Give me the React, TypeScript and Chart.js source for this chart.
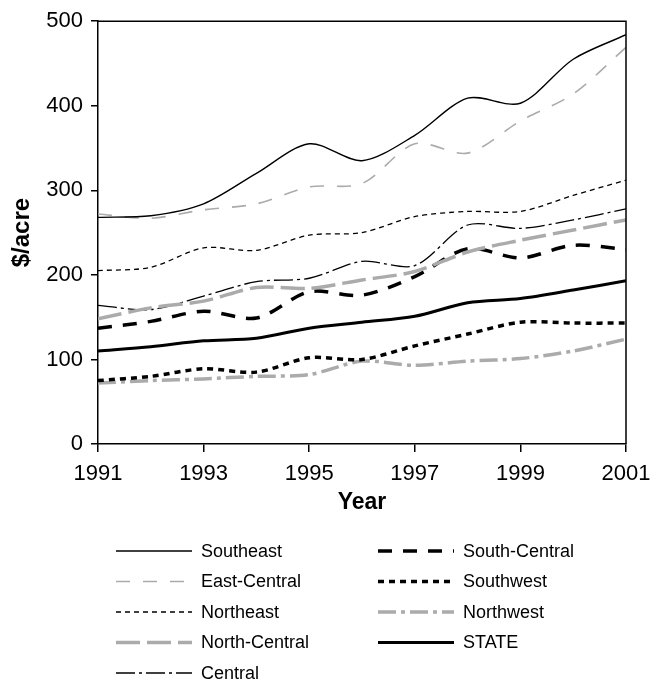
import React, { useEffect, useRef } from "react";
import { Chart, registerables } from "chart.js";

Chart.register(...registerables);

const years = [1991, 1992, 1993, 1994, 1995, 1996, 1997, 1998, 1999, 2000, 2001];
const xTickYears = [1991, 1993, 1995, 1997, 1999, 2001];
const yTicks = [0, 100, 200, 300, 400, 500];

const southeast = [268, 270, 284, 320, 355, 335, 365, 409, 403, 455, 484];
const eastCentral = [272, 267, 277, 284, 304, 308, 355, 344, 382, 414, 469];
const northeast = [205, 209, 232, 229, 247, 250, 269, 275, 275, 294, 312];
const northCentral = [148, 161, 169, 185, 184, 194, 204, 227, 241, 253, 265];
const central = [164, 159, 175, 192, 196, 216, 211, 259, 255, 265, 278];
const southCentral = [137, 145, 157, 149, 180, 176, 198, 231, 220, 235, 230];
const southwest = [75, 80, 89, 85, 102, 100, 116, 130, 144, 143, 143];
const northwest = [72, 75, 77, 80, 82, 98, 93, 98, 101, 110, 124];
const stateAvg = [110, 115, 122, 125, 137, 144, 151, 167, 172, 182, 193];

const FONT = "'Liberation Sans', Arial, Helvetica, sans-serif";
const GRAY = "#ababab";

const seriesDefs = [
  { label: "Southeast", data: southeast, color: "#000", width: 1.4, dash: [] as number[] },
  { label: "East-Central", data: eastCentral, color: GRAY, width: 1.6, dash: [14, 13] },
  { label: "Northeast", data: northeast, color: "#000", width: 1.3, dash: [5, 4] },
  { label: "North-Central", data: northCentral, color: GRAY, width: 3.5, dash: [24, 7] },
  { label: "Central", data: central, color: "#000", width: 1.3, dash: [19, 4, 3, 4] },
  { label: "South-Central", data: southCentral, color: "#000", width: 3.5, dash: [14, 11] },
  { label: "Southwest", data: southwest, color: "#000", width: 3.5, dash: [6, 5] },
  { label: "Northwest", data: northwest, color: GRAY, width: 3.5, dash: [18, 5, 4, 5] },
  { label: "STATE", data: stateAvg, color: "#000", width: 3, dash: [] as number[] },
];

const frameAndLegend = {
  id: "frameAndLegend",
  afterDatasetsDraw(chart: any) {
    const { ctx, chartArea } = chart;
    ctx.save();
    ctx.strokeStyle = "#000";
    ctx.lineWidth = 1.5;
    ctx.setLineDash([]);
    ctx.beginPath();
    ctx.moveTo(chartArea.left, chartArea.top);
    ctx.lineTo(chartArea.right, chartArea.top);
    ctx.lineTo(chartArea.right, chartArea.bottom);
    ctx.stroke();
    ctx.restore();
  },
  afterDraw(chart: any) {
    const { ctx } = chart;
    ctx.save();
    chart.data.datasets.forEach((ds: any, i: number) => {
      const col = i < 5 ? 0 : 1;
      const row = i < 5 ? i : i - 5;
      const x0 = col === 0 ? 116 : 378;
      const x1 = x0 + 76;
      const y = 551 + row * 30.5;
      ctx.strokeStyle = ds.borderColor;
      ctx.lineWidth = ds.borderWidth;
      ctx.setLineDash(ds.borderDash || []);
      ctx.beginPath();
      ctx.moveTo(x0, y);
      ctx.lineTo(x1, y);
      ctx.stroke();
      ctx.setLineDash([]);
      ctx.fillStyle = "#000";
      ctx.font = `18px ${FONT}`;
      ctx.textBaseline = "middle";
      ctx.textAlign = "left";
      ctx.fillText(ds.label, x1 + 9, y + 1);
    });
    ctx.restore();
  },
};

export default function App() {
  const ref = useRef<HTMLCanvasElement | null>(null);
  useEffect(() => {
    if (!ref.current) return;
    const chart = new Chart(ref.current, {
      type: "line",
      data: {
        datasets: seriesDefs.map((s) => ({
          label: s.label,
          data: years.map((yr, i) => ({ x: yr, y: s.data[i] })),
          borderColor: s.color,
          borderWidth: s.width,
          borderDash: s.dash,
          pointRadius: 0,
          tension: 0.3,
          fill: false,
        })),
      },
      options: {
        animation: false,
        responsive: false,
        maintainAspectRatio: false,
        layout: { padding: { top: 20, right: 31, left: 0, bottom: 165 } },
        plugins: {
          legend: { display: false },
          tooltip: { enabled: false },
        },
        scales: {
          x: {
            type: "linear",
            min: 1991,
            max: 2001,
            afterBuildTicks: (scale: any) => {
              scale.ticks = xTickYears.map((v) => ({ value: v }));
            },
            afterFit: (scale: any) => {
              scale.height = 72;
              scale.paddingRight = 0;
              scale.paddingLeft = 0;
            },
            grid: { drawOnChartArea: false, drawTicks: true, tickLength: 8, color: "#000", lineWidth: 1.5 },
            border: { display: true, color: "#000", width: 1.5 },
            ticks: {
              color: "#000",
              font: { family: FONT, size: 22 },
              padding: 9,
              maxRotation: 0,
              autoSkip: false,
              callback: (v: any) => String(v),
            },
            title: {
              display: true,
              text: "Year",
              color: "#000",
              font: { family: FONT, size: 23, weight: "bold" },
              padding: { top: 0, bottom: 0 },
            },
          },
          y: {
            min: 0,
            max: 500,
            afterBuildTicks: (scale: any) => {
              scale.ticks = yTicks.map((v) => ({ value: v }));
            },
            afterFit: (scale: any) => {
              scale.width = 98;
            },
            grid: { drawOnChartArea: false, drawTicks: true, tickLength: 7, color: "#000", lineWidth: 1.5 },
            border: { display: true, color: "#000", width: 1.5 },
            ticks: {
              color: "#000",
              font: { family: FONT, size: 22 },
              padding: 8,
              callback: (v: any) => String(v),
            },
            title: {
              display: true,
              text: "$/acre",
              color: "#000",
              font: { family: FONT, size: 24, weight: "bold" },
              padding: { top: 8, bottom: 0 },
            },
          },
        },
      },
      plugins: [frameAndLegend],
    });
    return () => chart.destroy();
  }, []);
  return (
    <div style={{ position: "absolute", left: 0, top: 0, width: 657, height: 681, background: "#fff" }}>
      <canvas ref={ref} width={657} height={681} style={{ width: 657, height: 681, display: "block" }} />
    </div>
  );
}
